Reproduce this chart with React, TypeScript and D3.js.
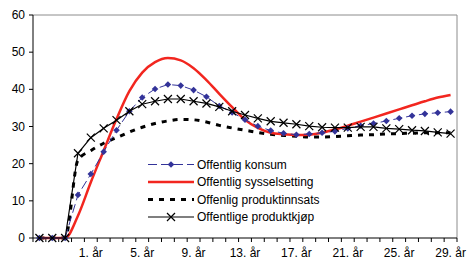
import React from "react";
import * as d3 from "d3";

const categories: number[] = d3.range(33).map((i) => i - 3);
const konsum = [0, 0, 0, 11.6, 17.2, 23.2, 29.0, 34.1, 37.8, 40.1, 41.3, 41.0, 39.8, 38.0, 35.5, 33.8, 31.8, 30.1, 28.9, 28.2, 27.8, 28.0, 28.3, 28.7, 29.5, 30.2, 30.8, 31.5, 32.2, 32.9, 33.4, 33.7, 34.0];
const sysselsetting = [0, 0, 0, 6, 15, 23.5, 32, 39.5, 44.5, 47.3, 48.4, 47.8, 45.7, 42.5, 38.8, 35.2, 31.8, 29.6, 28.3, 27.9, 27.7, 27.8, 28.3, 29.2, 30.2, 31.3, 32.4, 33.5, 34.6, 35.7, 36.8, 37.8, 38.5];
const produktinnsats = [0, 0, 0, 21, 23.5, 25.5, 27, 28.5, 29.8, 30.8, 31.5, 31.9, 31.8, 31.2, 30.3, 29.6, 29.0, 28.4, 27.9, 27.6, 27.4, 27.2, 27.2, 27.3, 27.5, 27.7, 27.8, 28.0, 28.1, 28.2, 28.3, 28.3, 28.3];
const produktkjop = [0, 0, 0, 22.8, 27.0, 29.5, 31.7, 34.1, 36.0, 36.8, 37.4, 37.4, 36.8, 36.2, 35.3, 34.1, 33.1, 32.2, 31.4, 31.0, 30.6, 30.1, 29.8, 29.7, 29.7, 29.9, 29.9, 29.5, 29.3, 29.0, 28.8, 28.4, 28.1];
const yTicks = [0, 10, 20, 30, 40, 50, 60];
const legendLabels = ["Offentlig konsum", "Offentlig sysselsetting", "Offenlig produktinnsats", "Offentlige produktkjøp"];

const W = 467, H = 260;
const left = 33, right = 457, top = 15, bottom = 238;
const font = "'Liberation Sans', Arial, sans-serif";

export default function App() {
  const x = d3.scaleBand<number>().domain(categories).range([left, right]);
  const xc = (c: number) => (x(c) as number) + x.bandwidth() / 2;
  const y = d3.scaleLinear().domain([0, 60]).range([bottom, top]);

  const mk = (vals: number[], curve: d3.CurveFactory) =>
    d3.line<number>().x((_, i) => xc(categories[i])).y((v) => y(v)).curve(curve)(vals) as string;

  const diamond = (cx: number, cy: number, r = 3.3) => `M${cx},${cy - r}L${cx + r},${cy}L${cx},${cy + r}L${cx - r},${cy}Z`;
  const cross = (cx: number, cy: number, r = 4) => `M${cx - r},${cy - r}L${cx + r},${cy + r}M${cx - r},${cy + r}L${cx + r},${cy - r}`;

  const boundaries = d3.range(categories.length + 1).map((i) => left + i * x.step());
  const labelCats = categories.filter((c) => c >= 1 && (c - 1) % 4 === 0);

  const legY = [164.5, 182, 199.5, 217];
  const lx0 = 148, lx1 = 194, ltx = 197;

  return (
    <svg width={W} height={H} style={{ position: "absolute", left: 0, top: 0, background: "#fff" }} fontFamily={font}>
      <rect x={0} y={0} width={W} height={H} fill="#fff" />
      {/* frame */}
      <line x1={left} x2={right} y1={top} y2={top} stroke="#8c8c8c" strokeWidth={1} />
      <line x1={right} x2={right} y1={top} y2={bottom} stroke="#8c8c8c" strokeWidth={1} />
      {/* y axis */}
      <line x1={left} x2={left} y1={top} y2={bottom} stroke="#000" strokeWidth={1} />
      {yTicks.map((t) => (
        <g key={t}>
          <line x1={left - 4} x2={left} y1={y(t)} y2={y(t)} stroke="#000" />
          <text x={25} y={y(t) + 4} textAnchor="end" fontSize={12} fill="#000">{t}</text>
        </g>
      ))}
      {/* x axis */}
      <line x1={left} x2={right} y1={bottom} y2={bottom} stroke="#000" strokeWidth={1} />
      {boundaries.map((b, i) => (
        <line key={i} x1={b} x2={b} y1={bottom} y2={bottom + 4} stroke="#000" />
      ))}
      {labelCats.map((c) => (
        <text key={c} x={xc(c)} y={257} textAnchor="middle" fontSize={12} fill="#000">{`${c}. år`}</text>
      ))}
      {/* series */}
      <path d={mk(produktinnsats, d3.curveMonotoneX)} fill="none" stroke="#000" strokeWidth={3} strokeDasharray="5,6" />
      <path d={mk(sysselsetting, d3.curveMonotoneX)} fill="none" stroke="#f2261f" strokeWidth={2.5} />
      <path d={mk(konsum, d3.curveLinear)} fill="none" stroke="#333399" strokeWidth={1} strokeDasharray="9,4" />
      {konsum.map((v, i) => (
        <path key={i} d={diamond(xc(categories[i]), y(v))} fill="#333399" />
      ))}
      <path d={mk(produktkjop, d3.curveLinear)} fill="none" stroke="#000" strokeWidth={1.2} />
      {produktkjop.map((v, i) => (
        <path key={i} d={cross(xc(categories[i]), y(v))} fill="none" stroke="#000" strokeWidth={1.2} />
      ))}
      {/* legend */}
      <g>
        <line x1={lx0} x2={lx1} y1={legY[0]} y2={legY[0]} stroke="#333399" strokeDasharray="9,4" />
        <path d={diamond((lx0 + lx1) / 2, legY[0])} fill="#333399" />
        <line x1={lx0} x2={lx1} y1={legY[1]} y2={legY[1]} stroke="#f2261f" strokeWidth={2.5} />
        <line x1={lx0} x2={lx1} y1={legY[2]} y2={legY[2]} stroke="#000" strokeWidth={3} strokeDasharray="5,6" />
        <line x1={lx0} x2={lx1} y1={legY[3]} y2={legY[3]} stroke="#000" strokeWidth={1.2} />
        <path d={cross((lx0 + lx1) / 2, legY[3])} stroke="#000" strokeWidth={1.2} fill="none" />
        {legendLabels.map((l, i) => (
          <text key={l} x={ltx} y={legY[i] + 4} fontSize={12} fill="#000">{l}</text>
        ))}
      </g>
    </svg>
  );
}
